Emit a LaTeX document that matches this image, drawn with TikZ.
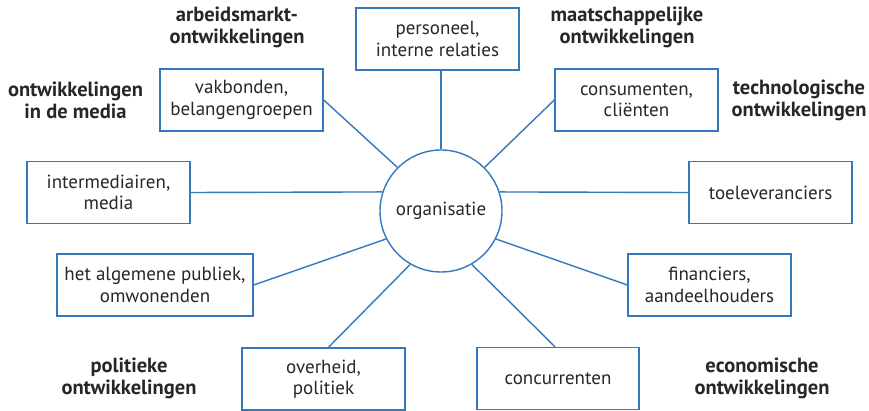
\documentclass[tikz,border=0pt]{standalone}
\usepackage{fontspec}
\setmainfont{PT Sans}
\definecolor{lineblue}{RGB}{52,120,190}
\definecolor{txt}{RGB}{40,38,40}
\begin{document}
\begin{tikzpicture}[x=1pt,y=-1pt,
  box/.style={draw=lineblue,line width=1.4pt,minimum height=62pt,minimum width=163pt,align=center,inner sep=0pt,text=txt,font=\fontsize{19}{21.5}\selectfont},
  conn/.style={draw=lineblue,line width=1.4pt},
  lab/.style={align=center,text=txt,font=\fontsize{20.5}{22}\selectfont\bfseries}]
\useasboundingbox (0,0) rectangle (869,411);
\node[circle,draw=lineblue,line width=1.4pt,minimum size=122pt,inner sep=0pt,text=txt,font=\fontsize{19}{21}\selectfont] (org) at (441,211) {organisatie};
\node[box] (pers) at (437.5,39) {personeel,\\interne relaties};
\node[box] (vak) at (241.5,100) {vakbonden,\\belangengroepen};
\node[box] (cons) at (636.5,100) {consumenten,\\cliënten};
\node[box] (int) at (108.5,192.5) {intermediairen,\\media};
\node[box] (toe) at (770.5,192.5) {toeleveranciers};
\node[box,minimum width=196pt] (pub) at (155,285) {het algemene publiek,\\omwonenden};
\node[box] (fin) at (709.5,285) {financiers,\\aandeelhouders};
\node[box] (ov) at (323.5,379) {overheid,\\politiek};
\node[box,minimum width=162pt] (con) at (558,378.5) {concurrenten};
\draw[conn] (org.90) -- (org.90 |- pers.south);
\draw[conn] (vak.east) -- (org.135);
\draw[conn] (cons.west) -- (org.45);
\draw[conn] (int.east) -- (org.162);
\draw[conn] (toe.west) -- (org.18);
\draw[conn] (pub.east) -- (org.207);
\draw[conn] (fin.west) -- (org.333);
\draw[conn] ([xshift=5pt]ov.north) -- (org.240);
\draw[conn] ([xshift=-3pt]con.north) -- (org.300);
\node[lab] (l1) at (237,27) {arbeidsmarkt-\\ontwikkelingen};
\node[lab] (l2) at (627,27) {maatschappelijke\\ontwikkelingen};
\node[lab] (l3) at (75.5,100) {ontwikkelingen\\in de media};
\node[lab] (l4) at (799,100) {technologische\\ontwikkelingen};
\node[lab] (l5) at (129,378) {politieke\\ontwikkelingen};
\node[lab] (l6) at (762,378) {economische\\ontwikkelingen};
\end{tikzpicture}
\end{document}
